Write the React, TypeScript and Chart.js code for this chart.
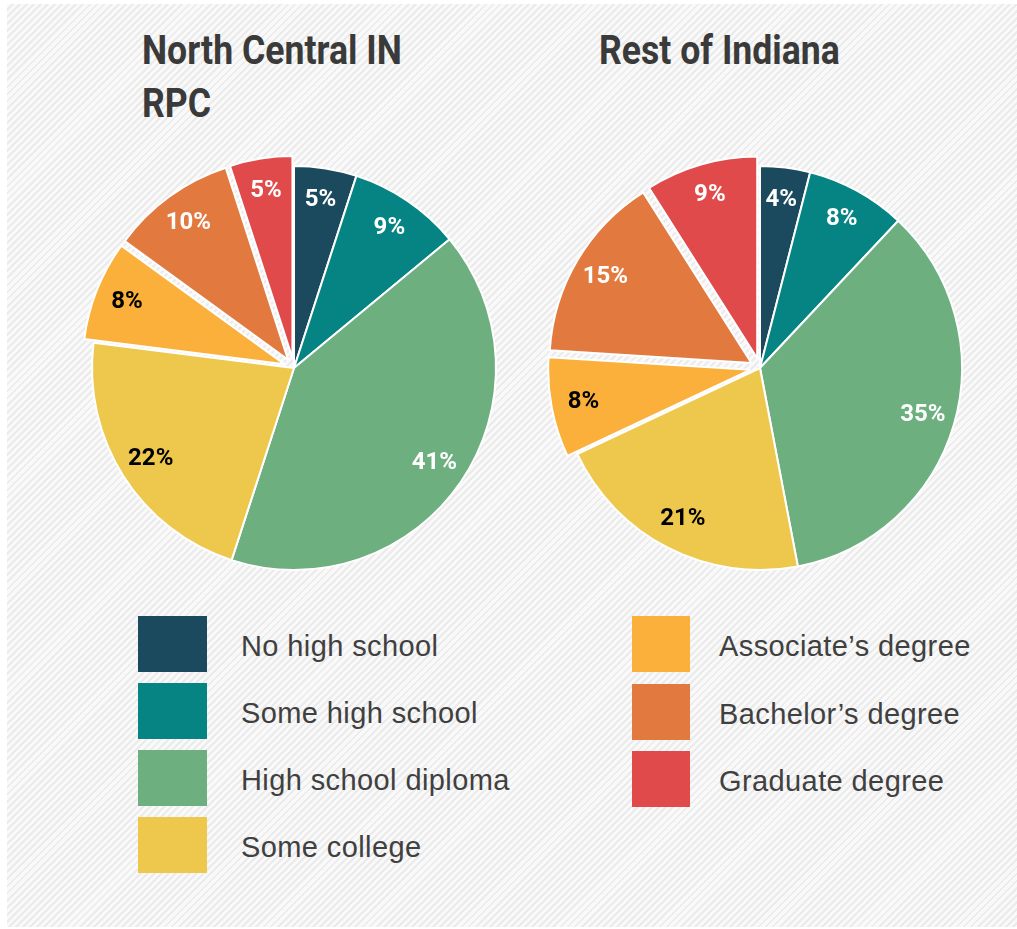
import React, { useEffect, useRef } from "react";
import { Chart, registerables } from "chart.js";

Chart.register(...registerables);

const categories = [
  "No high school",
  "Some high school",
  "High school diploma",
  "Some college",
  "Associate’s degree",
  "Bachelor’s degree",
  "Graduate degree",
];
const northCentralValues = [5, 9, 41, 22, 8, 10, 5];
const restOfIndianaValues = [4, 8, 35, 21, 8, 15, 9];
const sliceColors = ["#1b4a5e", "#068484", "#6daf7e", "#eec84c", "#fbb03b", "#e27a40", "#e04a4b"];
const labelColors = ["#ffffff", "#ffffff", "#ffffff", "#000000", "#000000", "#ffffff", "#ffffff"];
const explodeSlice = [false, false, false, false, true, true, true];
const EXPLODE_PX = 10;

const LABEL_FONT = 'bold 24px Roboto, "Liberation Sans", sans-serif';
const TITLE_FONT = 'Roboto, "Liberation Sans", sans-serif';
const TEXT_FONT = '"Liberation Sans", Arial, sans-serif';

// Pulls the chosen slices out from the centre (pure translation along the mid-angle).
const explodePlugin = {
  id: "explodeSlices",
  beforeDatasetsDraw(chart: any) {
    const meta = chart.getDatasetMeta(0);
    meta.data.forEach((arc: any, i: number) => {
      if (!explodeSlice[i] || arc.__exploded) return;
      const orig = arc.draw;
      arc.draw = function (ctx: CanvasRenderingContext2D, area: any) {
        const mid = (this.startAngle + this.endAngle) / 2;
        ctx.save();
        ctx.translate(Math.cos(mid) * EXPLODE_PX, Math.sin(mid) * EXPLODE_PX);
        orig.call(this, ctx, area);
        ctx.restore();
      };
      arc.__exploded = true;
    });
  },
};

const labelPlugin = {
  id: "sliceLabels",
  afterDatasetsDraw(chart: any) {
    const ctx = chart.ctx;
    const meta = chart.getDatasetMeta(0);
    const ds = chart.data.datasets[0];
    ctx.save();
    ctx.font = LABEL_FONT;
    ctx.textAlign = "center";
    ctx.textBaseline = "middle";
    meta.data.forEach((arc: any, i: number) => {
      const p = arc.getProps(["x", "y", "startAngle", "endAngle", "outerRadius"], true);
      const mid = (p.startAngle + p.endAngle) / 2;
      const r = p.outerRadius * 0.84 + (explodeSlice[i] ? EXPLODE_PX : 0);
      ctx.fillStyle = labelColors[i];
      ctx.fillText(ds.data[i] + "%", p.x + Math.cos(mid) * r, p.y + Math.sin(mid) * r);
    });
    ctx.restore();
  },
};

function PieCanvas({ values, left, top }: { values: number[]; left: number; top: number }) {
  const ref = useRef<HTMLCanvasElement | null>(null);
  useEffect(() => {
    if (!ref.current) return;
    const chart = new Chart(ref.current, {
      type: "pie",
      data: {
        labels: categories,
        datasets: [
          {
            data: values,
            backgroundColor: sliceColors,
            borderColor: "#ffffff",
            borderWidth: 2,
            hoverOffset: 0,
          } as any,
        ],
      },
      options: {
        animation: false,
        responsive: false,
        maintainAspectRatio: false,
        layout: { padding: 10 },
        plugins: { legend: { display: false }, tooltip: { enabled: false } },
      },
      plugins: [explodePlugin, labelPlugin],
    });
    return () => chart.destroy();
  }, [values]);
  return (
    <canvas
      ref={ref}
      width={426}
      height={426}
      style={{ position: "absolute", left, top, width: 426, height: 426 }}
    />
  );
}

const titleStyle: React.CSSProperties = {
  position: "absolute",
  top: 24,
  fontFamily: TITLE_FONT,
  fontWeight: "bold",
  fontSize: 40,
  lineHeight: "53px",
  color: "#3a3a3a",
  whiteSpace: "nowrap",
  transform: "scaleX(0.89)",
  transformOrigin: "left top",
};

const legendTextStyle: React.CSSProperties = {
  position: "absolute",
  height: 56,
  lineHeight: "56px",
  fontFamily: TEXT_FONT,
  fontSize: 29,
  letterSpacing: "0.4px",
  color: "#404040",
  whiteSpace: "nowrap",
};

export default function App() {
  const leftCol = [0, 1, 2, 3];
  const rightCol = [4, 5, 6];
  return (
    <div
      style={{
        position: "absolute",
        left: 0,
        top: 0,
        width: 1017,
        height: 929,
        background: "#ffffff",
        overflow: "hidden",
      }}
    >
      <div
        style={{
          position: "absolute",
          left: 7,
          top: 4,
          width: 1010,
          height: 923,
          background:
            "repeating-linear-gradient(135deg, #f9f9f9 0px, #f9f9f9 3px, #ebebeb 3px, #ebebeb 5px)",
        }}
      />
      <div style={{ ...titleStyle, left: 142 }}>
        North Central IN
        <br />
        RPC
      </div>
      <div style={{ ...titleStyle, left: 599 }}>Rest of Indiana</div>
      <PieCanvas values={northCentralValues} left={81} top={155} />
      <PieCanvas values={restOfIndianaValues} left={547} top={155} />
      {leftCol.map((ci, k) => (
        <React.Fragment key={"l" + ci}>
          <div
            style={{
              position: "absolute",
              left: 138,
              top: 616 + k * 67,
              width: 69,
              height: 56,
              background: sliceColors[ci],
            }}
          />
          <div style={{ ...legendTextStyle, left: 241, top: 618 + k * 67 }}>{categories[ci]}</div>
        </React.Fragment>
      ))}
      {rightCol.map((ci, k) => (
        <React.Fragment key={"r" + ci}>
          <div
            style={{
              position: "absolute",
              left: 632,
              top: 616 + k * 67.5,
              width: 58,
              height: 56,
              background: sliceColors[ci],
            }}
          />
          <div style={{ ...legendTextStyle, left: 719, top: 618 + k * 67.5 }}>{categories[ci]}</div>
        </React.Fragment>
      ))}
    </div>
  );
}
